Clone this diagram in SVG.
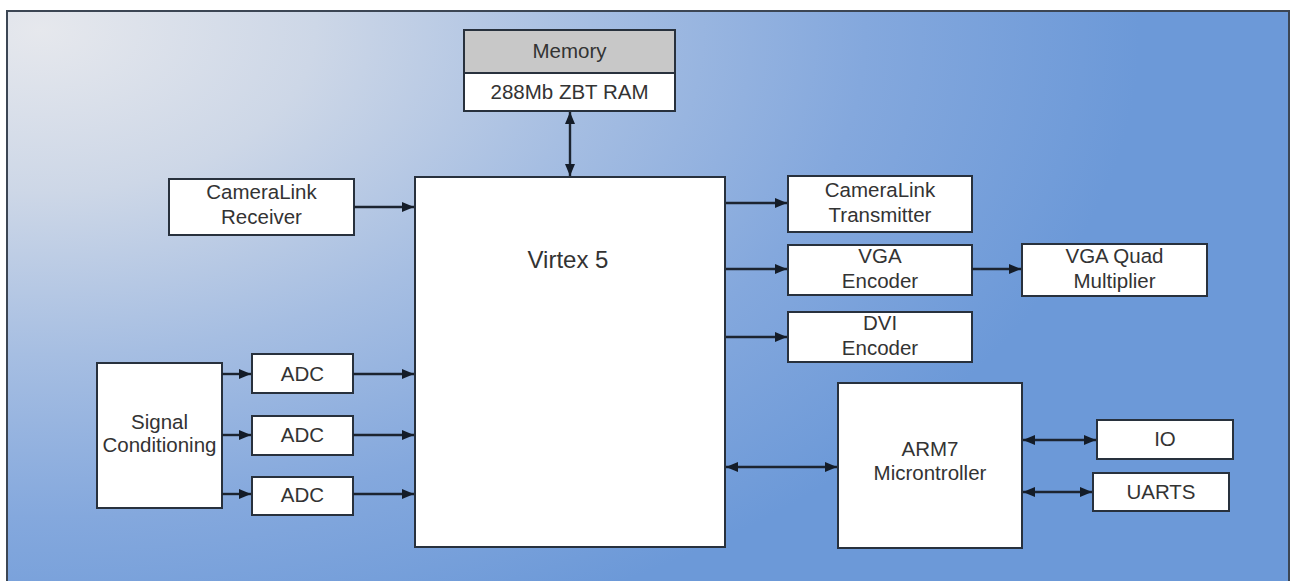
<svg xmlns="http://www.w3.org/2000/svg" width="1293" height="581" viewBox="0 0 1293 581">
<defs>
<radialGradient id="bg" gradientUnits="userSpaceOnUse" cx="0" cy="0" r="1" gradientTransform="translate(40,30) scale(1100,650)">
<stop offset="0" stop-color="#e6e8ed"/>
<stop offset="0.25" stop-color="#cdd7e7"/>
<stop offset="0.5" stop-color="#a6bee2"/>
<stop offset="0.75" stop-color="#84a8dd"/>
<stop offset="1" stop-color="#6c99d8"/>
</radialGradient>
<marker id="ah" viewBox="0 0 12 10" refX="12" refY="5" markerWidth="12" markerHeight="10" markerUnits="userSpaceOnUse" orient="auto-start-reverse">
<path d="M0,0 L12,5 L0,10 z" fill="#141c28"/>
</marker>
<style>
.box{fill:#ffffff;stroke:#28313d;stroke-width:2}
.t{font-family:"Liberation Sans",Arial,sans-serif;font-size:20.5px;fill:#333333;text-anchor:middle}
.big{font-size:24px}
.c{stroke:#1c2430;stroke-width:2.4;fill:none}
</style>
</defs>
<rect x="0" y="0" width="1293" height="581" fill="#ffffff"/>
<rect x="7" y="11" width="1282" height="580" fill="url(#bg)" stroke="#3c4654" stroke-width="2"/>

<g id="memory">
<rect x="464" y="30" width="211" height="43" fill="#c8c8c8" stroke="#28313d" stroke-width="2"/>
<rect x="464" y="73" width="211" height="38" class="box"/>
<text class="t" x="569.5" y="58">Memory</text>
<text class="t" x="569.5" y="99">288Mb ZBT RAM</text>
</g>

<g id="cameralink-receiver">
<rect x="169" y="179" width="185" height="56" class="box"/>
<text class="t" x="261.5" y="199">CameraLink</text>
<text class="t" x="261.5" y="224">Receiver</text>
</g>

<g id="virtex5">
<rect x="415" y="177" width="310" height="370" class="box"/>
<text class="t big" x="568" y="268">Virtex 5</text>
</g>

<g id="cameralink-transmitter">
<rect x="788" y="176" width="184" height="56" class="box"/>
<text class="t" x="880" y="197">CameraLink</text>
<text class="t" x="880" y="222">Transmitter</text>
</g>

<g id="vga-encoder">
<rect x="788" y="245" width="184" height="50" class="box"/>
<text class="t" x="880" y="263">VGA</text>
<text class="t" x="880" y="288">Encoder</text>
</g>

<g id="vga-quad">
<rect x="1022" y="244" width="185" height="52" class="box"/>
<text class="t" x="1114.5" y="263">VGA Quad</text>
<text class="t" x="1114.5" y="288">Multiplier</text>
</g>

<g id="dvi-encoder">
<rect x="788" y="312" width="184" height="50" class="box"/>
<text class="t" x="880" y="330">DVI</text>
<text class="t" x="880" y="355">Encoder</text>
</g>

<g id="signal-conditioning">
<rect x="97" y="363" width="125" height="145" class="box"/>
<text class="t" x="159.5" y="429">Signal</text>
<text class="t" x="159.5" y="452">Conditioning</text>
</g>

<g id="adc1">
<rect x="252" y="354" width="101" height="39" class="box"/>
<text class="t" x="302.5" y="381">ADC</text>
</g>
<g id="adc2">
<rect x="252" y="416" width="101" height="39" class="box"/>
<text class="t" x="302.5" y="442">ADC</text>
</g>
<g id="adc3">
<rect x="252" y="477" width="101" height="38" class="box"/>
<text class="t" x="302.5" y="502">ADC</text>
</g>

<g id="arm7">
<rect x="838" y="383" width="184" height="165" class="box"/>
<text class="t" x="930" y="456">ARM7</text>
<text class="t" x="930" y="480">Microntroller</text>
</g>

<g id="io">
<rect x="1097" y="420" width="136" height="39" class="box"/>
<text class="t" x="1165" y="446">IO</text>
</g>
<g id="uarts">
<rect x="1093" y="473" width="136" height="38" class="box"/>
<text class="t" x="1161" y="499">UARTS</text>
</g>

<g id="connectors">
<line class="c" x1="570" y1="112" x2="570" y2="176" marker-start="url(#ah)" marker-end="url(#ah)"/>
<line class="c" x1="354" y1="207" x2="414" y2="207" marker-end="url(#ah)"/>
<line class="c" x1="726" y1="203" x2="787" y2="203" marker-end="url(#ah)"/>
<line class="c" x1="726" y1="269" x2="787" y2="269" marker-end="url(#ah)"/>
<line class="c" x1="972" y1="269" x2="1021" y2="269" marker-end="url(#ah)"/>
<line class="c" x1="726" y1="337" x2="787" y2="337" marker-end="url(#ah)"/>
<line class="c" x1="222" y1="374" x2="251" y2="374" marker-end="url(#ah)"/>
<line class="c" x1="222" y1="435" x2="251" y2="435" marker-end="url(#ah)"/>
<line class="c" x1="222" y1="494" x2="251" y2="494" marker-end="url(#ah)"/>
<line class="c" x1="353" y1="374" x2="414" y2="374" marker-end="url(#ah)"/>
<line class="c" x1="353" y1="435" x2="414" y2="435" marker-end="url(#ah)"/>
<line class="c" x1="353" y1="494" x2="414" y2="494" marker-end="url(#ah)"/>
<line class="c" x1="726" y1="467" x2="837" y2="467" marker-start="url(#ah)" marker-end="url(#ah)"/>
<line class="c" x1="1023" y1="440" x2="1096" y2="440" marker-start="url(#ah)" marker-end="url(#ah)"/>
<line class="c" x1="1023" y1="492" x2="1092" y2="492" marker-start="url(#ah)" marker-end="url(#ah)"/>
</g>
</svg>
